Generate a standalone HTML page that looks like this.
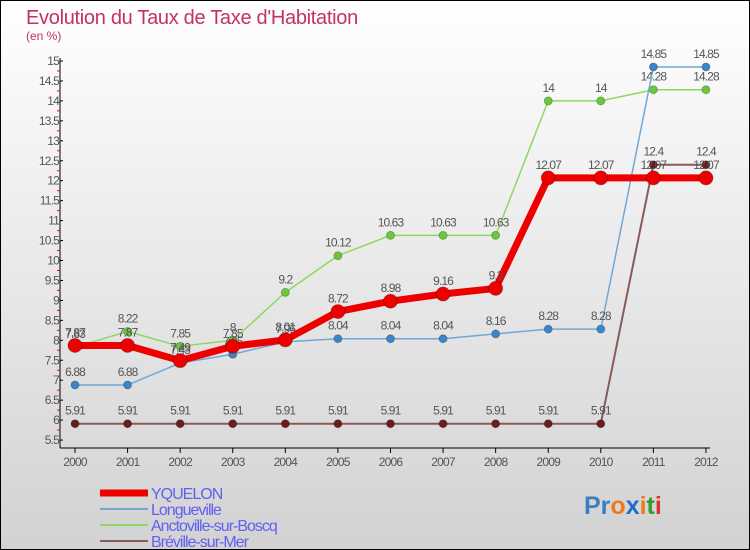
<!DOCTYPE html>
<html><head><meta charset="utf-8"><style>
body{margin:0;width:750px;height:550px;overflow:hidden;font-family:"Liberation Sans",sans-serif}
</style></head><body>
<svg id="chart" width="750" height="550" xmlns="http://www.w3.org/2000/svg" style="display:block">
<defs><linearGradient id="bg" x1="0" y1="0" x2="0" y2="1"><stop offset="0" stop-color="#ffffff"/><stop offset="1" stop-color="#d2d2d2"/></linearGradient></defs>
<rect x="0.5" y="0.5" width="749" height="549" fill="url(#bg)" stroke="#000"/>
<text x="26" y="24" font-size="20" fill="#c4306a" letter-spacing="-0.3">Evolution du Taux de Taxe d'Habitation</text>
<text x="26" y="40" font-size="12" fill="#c4306a">(en %)</text>
<g id="axes"></g><g id="series"></g><g id="legend"></g>
<text x="584" y="514" font-size="25" font-weight="bold"><tspan fill="#3a7fc0">Pr</tspan><tspan fill="#f07a1a">o</tspan><tspan fill="#1a6fc8">x</tspan><tspan fill="#f07a1a">i</tspan><tspan fill="#2aa02a">t</tspan><tspan fill="#e03030">i</tspan></text>
</svg>
<script>
const years=["2000","2001","2002","2003","2004","2005","2006","2007","2008","2009","2010","2011","2012"];
const yTicks=[5.5,6,6.5,7,7.5,8,8.5,9,9.5,10,10.5,11,11.5,12,12.5,13,13.5,14,14.5,15];
const seriesNames=["YQUELON","Longueville","Anctoville-sur-Boscq","Bréville-sur-Mer"];
const yquelon=[7.87,7.87,7.49,7.85,8.01,8.72,8.98,9.16,9.3,12.07,12.07,12.07,12.07];
const longueville=[6.88,6.88,7.43,7.65,7.96,8.04,8.04,8.04,8.16,8.28,8.28,14.85,14.85];
const anctoville=[7.83,8.22,7.85,8,9.2,10.12,10.63,10.63,10.63,14,14,14.28,14.28];
const breville=[5.91,5.91,5.91,5.91,5.91,5.91,5.91,5.91,5.91,5.91,5.91,12.4,12.4];
const NS="http://www.w3.org/2000/svg";
const X=i=>75+i*52.58, Y=v=>61+(15-v)*39.9;
function mk(tag,attrs,parent,txt){const e=document.createElementNS(NS,tag);for(const k in attrs)e.setAttribute(k,attrs[k]);if(txt!==undefined)e.textContent=txt;parent.appendChild(e);return e;}
const ax=document.getElementById('axes');
let e=mk('line',{x1:60,y1:58,x2:60,y2:448,stroke:'#000'},ax);

e=mk('line',{x1:60,y1:448,x2:710,y2:448,stroke:'#000'},ax);

yTicks.forEach(v=>{const y=Y(v);
 mk('line',{x1:60,y1:y,x2:63,y2:y,stroke:'#000'},ax);
 if(v<15)mk('line',{x1:57,y1:Y(v+0.25),x2:60,y2:Y(v+0.25),stroke:'#f00'},ax);
 e=mk('text',{x:59,y:y+4,'font-size':12,fill:'#555','text-anchor':'end','letter-spacing':'-0.8'},ax,String(v));
 });
years.forEach((yr,i)=>{const x=X(i);
 mk('line',{x1:x,y1:448,x2:x,y2:453,stroke:'#000'},ax);
 e=mk('text',{x:x,y:466,'font-size':12,fill:'#555','text-anchor':'middle','letter-spacing':'-0.8'},ax,yr);
 });
const sg=document.getElementById('series');
const defs=[[breville,'#8a5a5a','#6b1c1c',2,4,'breville'],[anctoville,'#8fd860','#6cc83a',1.5,4,'anctoville'],[longueville,'#6fa8d8','#3a86c8',1.5,4,'longueville'],[yquelon,'#ee0000','#ee0000',7,7,'yquelon']];
defs.forEach(([d,lc,pc,w,r,nm])=>{
 const g=mk('g',{},sg);
 e=mk('polyline',{points:d.map((v,i)=>X(i)+','+Y(v)).join(' '),fill:'none',stroke:lc,'stroke-width':w,'stroke-linejoin':'round'},g);
 
 d.forEach((v,i)=>{e=mk('circle',{cx:X(i),cy:Y(v),r:r,fill:pc,stroke:'rgba(0,0,0,0.25)'},g);
  
  e=mk('text',{x:X(i),y:Y(v)-9,'font-size':12,fill:'#555','text-anchor':'middle','letter-spacing':'-0.9'},g,String(v));
  });
});
const lg=document.getElementById('legend');
const lcol=['#ee0000','#6fa8d8','#8fd860','#8a5a5a'],lw=[7,2,2,2];
seriesNames.forEach((n,i)=>{const y=493+i*16;
 e=mk('line',{x1:100,y1:y,x2:148,y2:y,stroke:lcol[i],'stroke-width':lw[i]},lg);
 
 e=mk('text',{x:151,y:y+6,'font-size':16,fill:'#6060f0','letter-spacing':'-1'},lg,n);
 });
</script>
</body></html>
